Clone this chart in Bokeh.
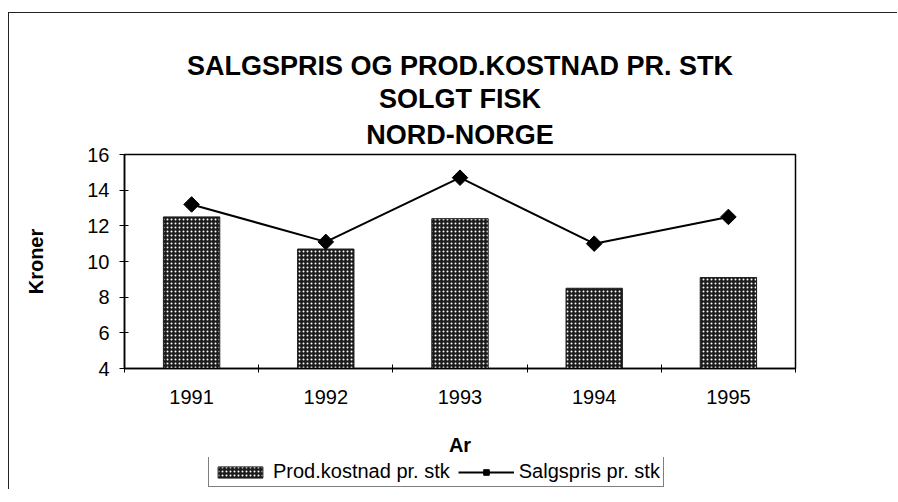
import math
from bokeh.plotting import figure
from bokeh.layouts import column
from bokeh.models import (Range1d, FixedTicker, Title, Legend, LegendItem, ColumnDataSource)
from bokeh.embed import file_html
from bokeh.resources import INLINE

years = ["1991", "1992", "1993", "1994", "1995"]
prod_kostnad = [12.5, 10.7, 12.4, 8.5, 9.1]
salgspris = [13.2, 11.1, 14.7, 11.0, 12.5]
y_ticks = [4, 6, 8, 10, 12, 14, 16]

xpos = list(range(1, len(years) + 1))
src = ColumnDataSource(dict(x=xpos, year=years, cost=prod_kostnad, price=salgspris))

FONT = "Liberation Sans"
BL, BR = 115, 103

p = figure(frame_width=670, frame_height=213, output_backend="svg", toolbar_location=None,
           x_range=Range1d(0.5, len(years) + 0.5), y_range=Range1d(4, 16),
           min_border_left=BL, min_border_right=BR, min_border_top=141, min_border_bottom=10,
           styles={"margin-left": "8px", "margin-top": "12px",
                   "border-left": "1px solid #222", "border-top": "1px solid #222"})

p.title.text = "SALGSPRIS OG PROD.KOSTNAD PR. STK"
p.title.text_font = FONT
p.title.text_font_size = "27px"
p.title.text_font_style = "bold"
p.title.text_color = "black"
p.title.align = "center"
p.title.standoff = 2

p.add_layout(Title(text="NORD-NORGE", text_font=FONT, text_font_size="27px", text_font_style="bold",
                   text_color="black", align="center", standoff=9), "above")
p.add_layout(Title(text="SOLGT FISK", text_font=FONT, text_font_size="27px", text_font_style="bold",
                   text_color="black", align="center", standoff=0), "above")

p.xgrid.visible = False
p.ygrid.visible = False
p.outline_line_color = "black"
p.outline_line_width = 1.5
p.background_fill_color = "white"

bar_style = dict(fill_color="#1c1c1c", line_color="#1c1c1c", line_width=1,
                 hatch_pattern="dot", hatch_color="white", hatch_scale=4, hatch_weight=2)
p.vbar(x="x", top="cost", bottom=4, width=0.42, source=src, **bar_style)
p.line(x="x", y="price", source=src, line_color="black", line_width=2)
p.scatter(x="x", y="price", source=src, marker="square", size=11, angle=math.pi / 4,
          fill_color="black", line_color="black")

xa = p.xaxis[0]
xa.ticker = FixedTicker(ticks=xpos, minor_ticks=[v + 0.5 for v in range(0, len(years) + 1)])
xa.major_label_overrides = {i: y for i, y in zip(xpos, years)}
xa.major_tick_in = 0
xa.major_tick_out = 0
xa.minor_tick_in = 4
xa.minor_tick_out = 4
xa.minor_tick_line_color = "black"
xa.axis_line_color = "black"
xa.axis_line_width = 1.5
xa.major_label_text_font = FONT
xa.major_label_text_font_size = "20px"
xa.major_label_text_color = "black"
xa.major_label_standoff = 17
xa.axis_label = "Ar"
xa.axis_label_text_font = FONT
xa.axis_label_text_font_size = "20px"
xa.axis_label_text_font_style = "bold"
xa.axis_label_text_color = "black"
xa.axis_label_standoff = 27

ya = p.yaxis[0]
ya.ticker = FixedTicker(ticks=y_ticks)
ya.minor_tick_line_color = None
ya.major_tick_in = 4
ya.major_tick_out = 5
ya.major_tick_line_color = "black"
ya.axis_line_color = "black"
ya.axis_line_width = 1.5
ya.major_label_text_font = FONT
ya.major_label_text_font_size = "20px"
ya.major_label_text_color = "black"
ya.major_label_standoff = 10
ya.axis_label = "Kroner"
ya.axis_label_text_font = FONT
ya.axis_label_text_font_size = "20px"
ya.axis_label_text_font_style = "bold"
ya.axis_label_text_color = "black"
ya.axis_label_standoff = 37

# legend strip: same series, drawn in a range where the marks are out of view
q = figure(frame_width=670, frame_height=32, output_backend="svg", toolbar_location=None,
           x_range=Range1d(0.5, len(years) + 0.5), y_range=Range1d(100, 101),
           x_axis_type=None, y_axis_type=None,
           min_border_left=BL, min_border_right=BR, min_border_top=0, min_border_bottom=0,
           styles={"margin-left": "8px", "border-left": "1px solid #222"})
q.xgrid.visible = False
q.ygrid.visible = False
q.outline_line_color = None
lb = q.vbar(x="x", top="cost", bottom=4, width=0.42, source=src, **bar_style)
ll = q.line(x="x", y="price", source=src, line_color="black", line_width=2)
lp = q.scatter(x="x", y="price", source=src, marker="square", size=11, angle=math.pi / 4,
               fill_color="black", line_color="black")

legend = Legend(items=[LegendItem(label="Prod.kostnad pr. stk", renderers=[lb]),
                       LegendItem(label="Salgspris pr. stk", renderers=[ll, lp])],
                orientation="horizontal", location=(84, 2),
                label_text_font=FONT, label_text_font_size="20px", label_text_color="black",
                glyph_width=56, glyph_height=14, label_standoff=5, spacing=8,
                padding=3, margin=0, border_line_color="black", border_line_width=1.2,
                label_height=20, background_fill_color="white")
q.add_layout(legend, "center")

layout = column(p, q, spacing=0)

open("out.html", "w").write(file_html(layout, INLINE))
